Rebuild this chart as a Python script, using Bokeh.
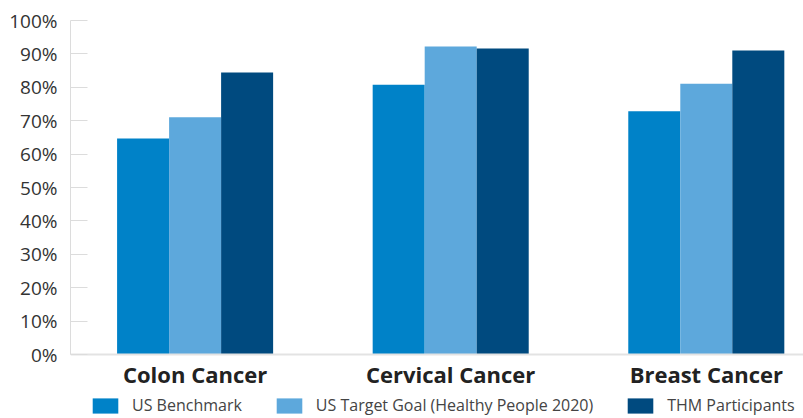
from bokeh.plotting import figure
from bokeh.models import ColumnDataSource, Range1d, FixedTicker, PrintfTickFormatter, Legend, LegendItem
from bokeh.transform import dodge
from bokeh.embed import file_html
from bokeh.resources import INLINE

categories = ["Colon Cancer", "Cervical Cancer", "Breast Cancer"]
us_benchmark = [64.7, 80.8, 72.8]
us_target = [71.0, 92.2, 81.1]
thm_participants = [84.4, 91.6, 91.0]
y_ticks = [0, 10, 20, 30, 40, 50, 60, 70, 80, 90, 100]

series_names = ["US Benchmark", "US Target Goal (Healthy People 2020)", "THM Participants"]
colors = ["#0082c8", "#5da8dc", "#004a7f"]

xpos = [i + 0.5 for i in range(len(categories))]
src = ColumnDataSource(dict(x=xpos, bench=us_benchmark, target=us_target, thm=thm_participants))

p = figure(frame_width=733, frame_height=398, output_backend="svg", toolbar_location=None,
           x_range=Range1d(0.0125, 2.8803), y_range=Range1d(-19.16, 100),
           min_border_left=70, min_border_right=0, min_border_top=20, min_border_bottom=0)
p.outline_line_color = None
p.xgrid.visible = False
p.ygrid.visible = False

w = 0.2035
r1 = p.vbar(x=dodge("x", -w, range=p.x_range), top="bench", width=w, source=src, color=colors[0], line_color=None)
r2 = p.vbar(x=dodge("x", 0, range=p.x_range), top="target", width=w, source=src, color=colors[1], line_color=None)
r3 = p.vbar(x=dodge("x", w, range=p.x_range), top="thm", width=w, source=src, color=colors[2], line_color=None)

# y axis
p.yaxis.ticker = FixedTicker(ticks=y_ticks)
p.yaxis.bounds = (0, 100)
p.yaxis.formatter = PrintfTickFormatter(format="%d%%")
p.yaxis.major_tick_in = 17
p.yaxis.major_tick_out = 0
p.yaxis.minor_tick_line_color = None
p.yaxis.major_tick_line_color = "#dcdcdc"
p.yaxis.axis_line_color = "#dcdcdc"
p.yaxis.major_label_text_font = "Open Sans"
p.yaxis.major_label_text_font_size = "19px"
p.yaxis.major_label_text_color = "#333333"
p.yaxis.major_label_standoff = 13

# x axis (drawn at the 0% baseline)
p.xaxis.fixed_location = 0
p.xaxis.ticker = FixedTicker(ticks=xpos)
p.xaxis.major_label_overrides = {x: c for x, c in zip(xpos, categories)}
p.xaxis.major_tick_line_color = None
p.xaxis.minor_tick_line_color = None
p.xaxis.major_tick_out = 0
p.xaxis.major_tick_in = 0
p.xaxis.axis_line_color = "#e3e3e3"
p.xaxis.axis_line_width = 2
p.xaxis.major_label_text_font = "Open Sans"
p.xaxis.major_label_text_font_style = "bold"
p.xaxis.major_label_text_font_size = "22px"
p.xaxis.major_label_text_color = "#222222"
p.xaxis.major_label_standoff = 4

legend = Legend(items=[LegendItem(label=n, renderers=[r]) for n, r in zip(series_names, [r1, r2, r3])],
                orientation="horizontal", location=(19, 2),
                glyph_width=32, glyph_height=19, label_standoff=11, spacing=31, label_height=19,
                padding=0, margin=0, border_line_color=None, background_fill_alpha=0,
                label_text_font="Open Sans", label_text_font_size="16px", label_text_color="#444444")
p.add_layout(legend, "center")

open("out.html", "w").write(file_html(p, INLINE))
